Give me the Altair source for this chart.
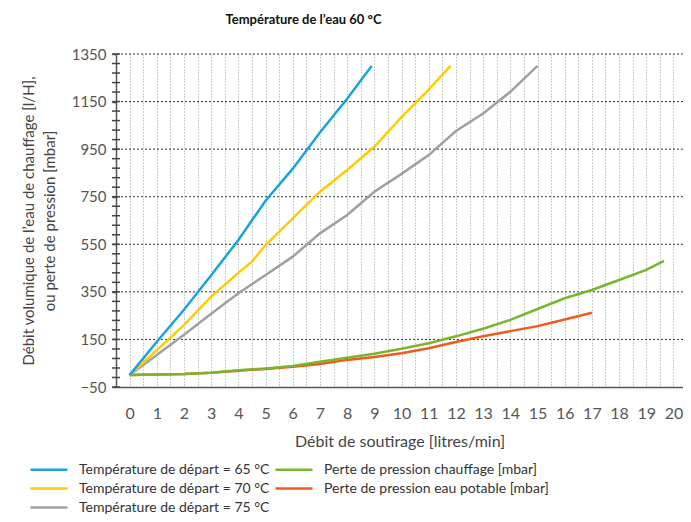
import altair as alt
import pandas as pd

# ---- data ----
series_names = [
    "Température de départ = 65 °C",
    "Température de départ = 70 °C",
    "Température de départ = 75 °C",
    "Perte de pression chauffage [mbar]",
    "Perte de pression eau potable [mbar]",
]
series_colors = ["#1aa3dc", "#ffcc00", "#a0a0a0", "#7ab52c", "#f05a1c"]

x_65 = [0, 1, 2, 3, 4, 5, 6, 7, 8, 8.9]
y_65 = [0, 140, 275, 420, 568, 733, 868, 1020, 1162, 1300]

x_70 = [0, 1, 2, 3, 4, 4.5, 5, 6, 7, 7.5, 8, 9, 10, 11, 11.8]
y_70 = [0, 105, 210, 330, 430, 477, 547, 659, 771, 816, 862, 960, 1085, 1200, 1300]

x_75 = [0, 1, 2, 3, 4, 5, 6, 7, 8, 9, 10, 11, 12, 13, 14, 15]
y_75 = [0, 85, 170, 258, 344, 421, 498, 596, 673, 771, 846, 925, 1026, 1100, 1191, 1300]

x_ch = [0, 1, 2, 3, 4, 5, 6, 7, 8, 9, 10, 11, 12, 13, 14, 15, 16, 17, 18, 19, 19.65]
y_ch = [0, 3, 5, 10, 20, 28, 38, 56, 73, 90, 111, 134, 163, 195, 232, 278, 323, 358, 400, 442, 480]

x_ep = [0, 1, 2, 3, 4, 5, 6, 7, 8, 9, 10, 11, 12, 13, 14, 15, 16, 17]
y_ep = [0, 3, 5, 10, 18, 26, 35, 47, 64, 76, 92, 113, 139, 163, 185, 206, 234, 262]

x_grid = [i * 0.5 for i in range(0, 41)]
y_minor = [-50 + 40 * i for i in range(0, 36)]
y_major = [-50 + 200 * i for i in range(0, 8)]

rows = []
for name, xs, ys in [
    (series_names[4], x_ep, y_ep),
    (series_names[3], x_ch, y_ch),
    (series_names[2], x_75, y_75),
    (series_names[1], x_70, y_70),
    (series_names[0], x_65, y_65),
]:
    for xv, yv in zip(xs, ys):
        rows.append({"serie": name, "x": xv, "y": yv})
df = pd.DataFrame(rows)
minor_df = pd.DataFrame({"y": y_minor})
major_df = pd.DataFrame({"y": y_major[1:]})

FONT = "Lato"
xscale = alt.Scale(domain=[-0.5, 20.35], nice=False, zero=False)
yscale = alt.Scale(domain=[-50, 1350], nice=False, zero=False)

hgrid = alt.Chart(major_df).mark_rule(color="#333", strokeWidth=1, strokeDash=[2, 2]).encode(
    y=alt.Y("y:Q", scale=yscale),
)

minor_ticks = alt.Chart(minor_df).mark_rule(color="#444", strokeWidth=1.5, clip=False).encode(
    y=alt.Y("y:Q", scale=yscale),
    x=alt.value(-4),
    x2=alt.value(4),
)

lines = alt.Chart(df).mark_line(strokeWidth=2.5).encode(
    x=alt.X(
        "x:Q",
        scale=xscale,
        axis=alt.Axis(
            values=x_grid,
            labelExpr="datum.value % 1 == 0 ? '' + datum.value : ''",
            labelOverlap=False,
            grid=True,
            gridColor="#9a9a9a",
            gridDash=[1, 2],
            gridWidth=1,
            ticks=False,
            domainColor="#555",
            domainWidth=1.5,
            labelFont=FONT,
            labelFontSize=16,
            labelColor="#555",
            labelPadding=18,
            title="Débit de soutirage [litres/min]",
            titleFont=FONT,
            titleFontSize=16,
            titleFontWeight="normal",
            titleColor="#444",
            titlePadding=12,
        ),
    ),
    y=alt.Y(
        "y:Q",
        scale=yscale,
        axis=alt.Axis(
            values=y_major,
            format="d",
            labelOverlap=False,
            grid=False,
            tickSize=4,
            tickColor="#444",
            tickWidth=1.5,
            domainColor="#555",
            domainWidth=1.5,
            labelFont=FONT,
            labelFontSize=15,
            labelColor="#555",
            labelPadding=6,
            title=["Débit volumique de l’eau de chauffage [l/H],", "ou perte de pression [mbar]"],
            titleFont=FONT,
            titleFontSize=15,
            titleFontWeight="normal",
            titleColor="#444",
            titlePadding=14,
            titleLineHeight=21,
        ),
    ),
    color=alt.Color(
        "serie:N",
        scale=alt.Scale(domain=series_names, range=series_colors),
        legend=alt.Legend(
            title=None,
            orient="none",
            legendX=-78.5,
            legendY=404,
            columns=2,
            columnPadding=1,
            rowPadding=-1.5,
            symbolType="M-1.85,0H1.85",
            symbolSize=400,
            symbolStrokeWidth=2.5,
            labelOffset=18.5,
            labelLimit=400,
            labelFont=FONT,
            labelFontSize=14,
            labelColor="#333",
        ),
    ),
)

chart = alt.layer(hgrid, minor_ticks, lines).properties(
    width=567,
    height=333,
    title=alt.TitleParams(
        text="Température de l’eau 60 °C",
        font=FONT,
        fontSize=13,
        fontWeight="bold",
        color="#111",
        anchor="middle",
        dx=-96,
        offset=20,
    ),
    autosize=alt.AutoSizeParams(type="none"),
    padding={"left": 108, "top": 46, "right": 0, "bottom": 127},
).configure_view(stroke=None)

chart.save("out.html", embed_options={"renderer": "svg", "actions": False})
